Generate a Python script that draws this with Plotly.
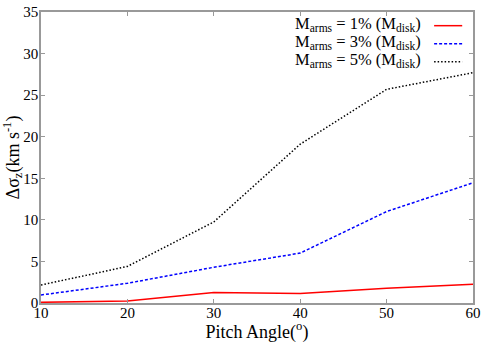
import plotly.graph_objects as go

pitch_angle = [10, 20, 30, 40, 50, 60]
sigma_1pct = [0.08, 0.24, 1.25, 1.13, 1.77, 2.25]
sigma_3pct = [0.96, 2.37, 4.3, 6.0, 11.0, 14.46]
sigma_5pct = [2.16, 4.4, 9.75, 19.1, 25.7, 27.7]
series_names = ["M<sub>arms</sub> = 1% (M<sub>disk</sub>)",
                "M<sub>arms</sub> = 3% (M<sub>disk</sub>)",
                "M<sub>arms</sub> = 5% (M<sub>disk</sub>)"]
colors = ["#ff0000", "#0000ff", "#000000"]
dashes = ["solid", "3px,2px", "1.5px,2px"]
x_ticks = [10, 20, 30, 40, 50, 60]
y_ticks = [0, 5, 10, 15, 20, 25, 30, 35]

FONT = "'Liberation Serif', 'Times New Roman', serif"

fig = go.Figure()
for ys, name, c, d in zip([sigma_1pct, sigma_3pct, sigma_5pct], series_names, colors, dashes):
    fig.add_trace(go.Scatter(x=pitch_angle, y=ys, mode="lines", name=name,
                             line=dict(color=c, width=1.5, dash=d), showlegend=False))

# manual legend: text right-aligned, sample line to the right
leg_y = [0.96, 0.898, 0.836]
for name, c, d, yy in zip(series_names, colors, dashes, leg_y):
    fig.add_annotation(x=0.885, y=yy, xref="paper", yref="paper", text=name,
                       showarrow=False, xanchor="right", yanchor="middle",
                       font=dict(family=FONT, size=16.5, color="#000"))
    fig.add_shape(type="line", xref="paper", yref="paper", x0=0.91, x1=0.975,
                  y0=yy - 0.007, y1=yy - 0.007, line=dict(color=c, width=1.5, dash=d))

axis_common = dict(showgrid=False, zeroline=False, showline=True, linecolor="#999999",
                   linewidth=1.5, mirror="ticks", ticks="inside", ticklen=4,
                   tickcolor="#999999", tickwidth=1, automargin=False,
                   tickfont=dict(family=FONT, size=15, color="#000"))

fig.update_xaxes(range=[10, 60], tickvals=x_ticks, ticklabelstandoff=-5,
                 title=dict(text="Pitch Angle(<sup>o</sup>)", font=dict(family=FONT, size=18, color="#000"),
                            standoff=0),
                 **axis_common)
fig.update_yaxes(range=[0, 35], tickvals=y_ticks, ticklabelstandoff=-2,
                 title=dict(text="Δσ<sub>z</sub>(km s<sup>-1</sup>)", font=dict(family=FONT, size=18, color="#000"),
                            standoff=6),
                 **axis_common)

fig.update_layout(width=491, height=343, margin=dict(l=41, r=18, t=12, b=40),
                  plot_bgcolor="white", paper_bgcolor="white",
                  font=dict(family=FONT))

fig.write_html("out.html", config={"displayModeBar": False},
               post_script="document.body.style.margin='0';document.body.style.overflow='hidden';")
